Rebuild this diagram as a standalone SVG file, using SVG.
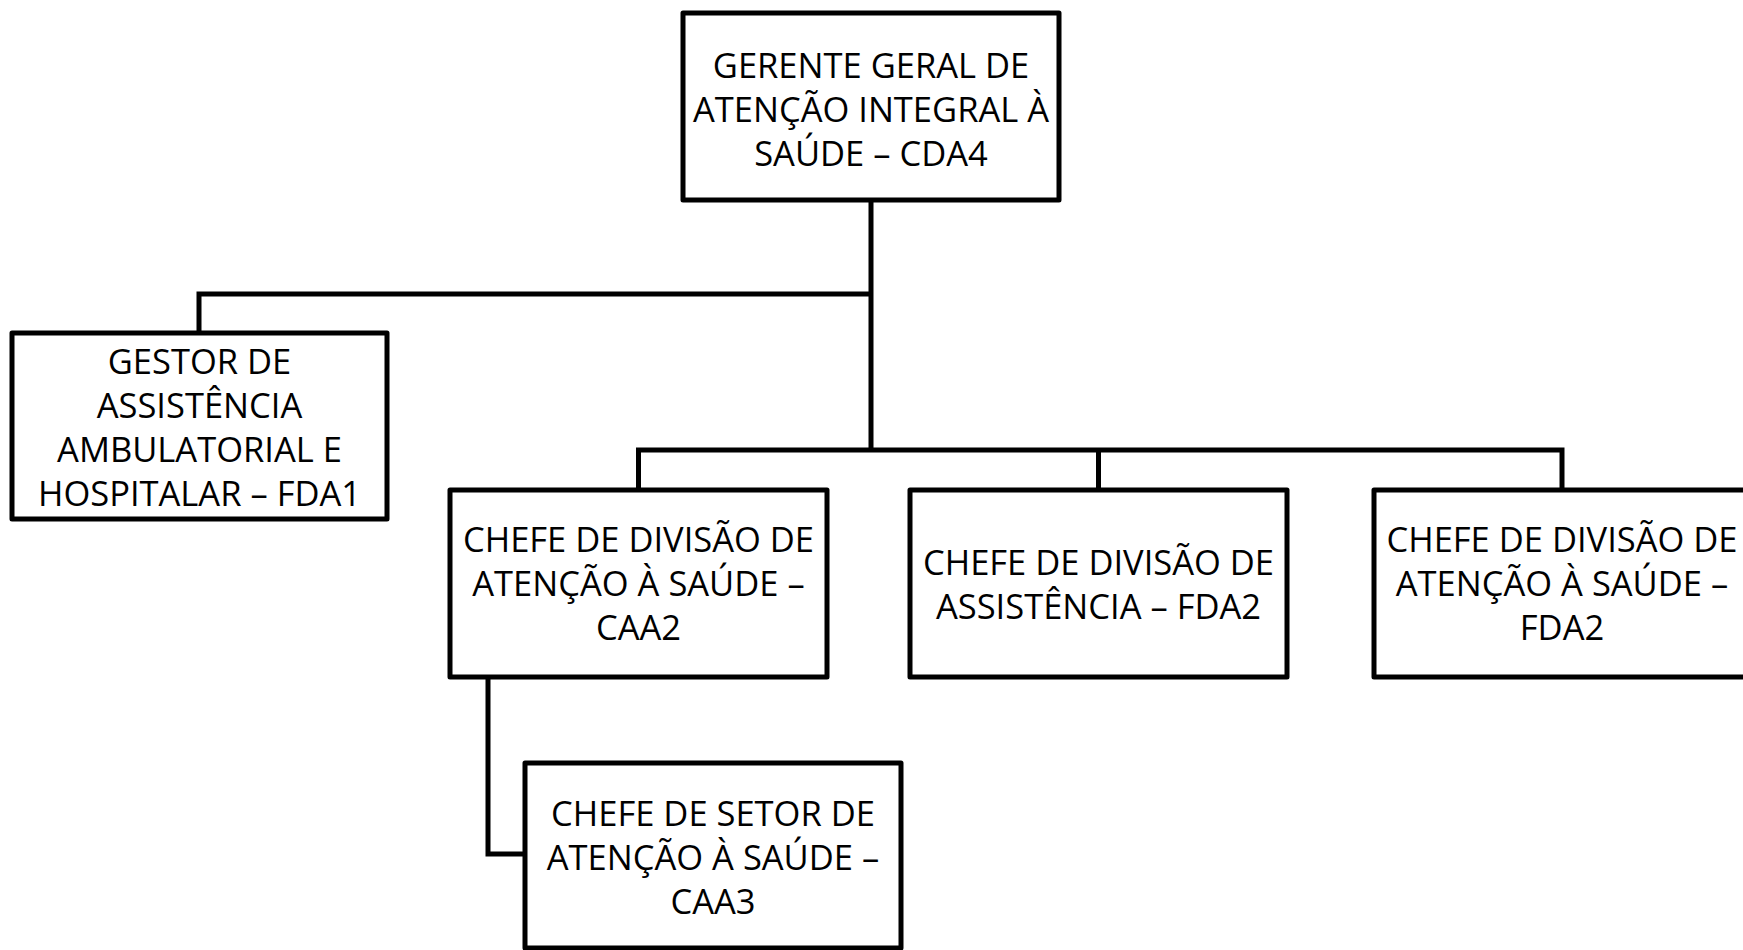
<svg xmlns="http://www.w3.org/2000/svg" width="1743" height="950" viewBox="0 0 1743 950">
<style>
.box{fill:#fff;stroke:#000;stroke-width:5;stroke-linejoin:round}
.conn{fill:none;stroke:#000;stroke-width:5;stroke-linejoin:miter}
.t{font-family:"Open Sans","Noto Sans",sans-serif;font-size:34.5px;fill:#000;text-anchor:middle}
</style>
<rect width="1743" height="950" fill="#fff"/>
<g id="connectors">
<path class="conn" d="M871 200 V450"/>
<path class="conn" d="M871 294 H199 V333"/>
<path class="conn" d="M638.5 490 V450 H1562 V490"/>
<path class="conn" d="M1098.5 450 V490"/>
<path class="conn" d="M488 677 V854 H525"/>
</g>
<g id="n-cda4">
<rect class="box" x="683" y="13" width="376" height="187"/>
<text class="t" x="871" y="78">GERENTE GERAL DE</text>
<text class="t" x="871" y="122">ATENÇÃO INTEGRAL À</text>
<text class="t" x="871" y="166">SAÚDE – CDA4</text>
</g>
<g id="n-fda1">
<rect class="box" x="12" y="333" width="375" height="186"/>
<text class="t" x="199.5" y="374">GESTOR DE</text>
<text class="t" x="199.5" y="418">ASSISTÊNCIA</text>
<text class="t" x="199.5" y="462">AMBULATORIAL E</text>
<text class="t" x="199.5" y="506">HOSPITALAR – FDA1</text>
</g>
<g id="n-caa2">
<rect class="box" x="450" y="490" width="377" height="187"/>
<text class="t" x="638.5" y="552">CHEFE DE DIVISÃO DE</text>
<text class="t" x="638.5" y="596">ATENÇÃO À SAÚDE –</text>
<text class="t" x="638.5" y="640">CAA2</text>
</g>
<g id="n-fda2a">
<rect class="box" x="910" y="490" width="377" height="187"/>
<text class="t" x="1098.5" y="575">CHEFE DE DIVISÃO DE</text>
<text class="t" x="1098.5" y="619">ASSISTÊNCIA – FDA2</text>
</g>
<g id="n-fda2b">
<rect class="box" x="1374" y="490" width="377" height="187"/>
<text class="t" x="1562" y="552">CHEFE DE DIVISÃO DE</text>
<text class="t" x="1562" y="596">ATENÇÃO À SAÚDE –</text>
<text class="t" x="1562" y="640">FDA2</text>
</g>
<g id="n-caa3">
<rect class="box" x="525" y="763" width="376" height="185"/>
<text class="t" x="713" y="826">CHEFE DE SETOR DE</text>
<text class="t" x="713" y="870">ATENÇÃO À SAÚDE –</text>
<text class="t" x="713" y="914">CAA3</text>
</g>
</svg>
